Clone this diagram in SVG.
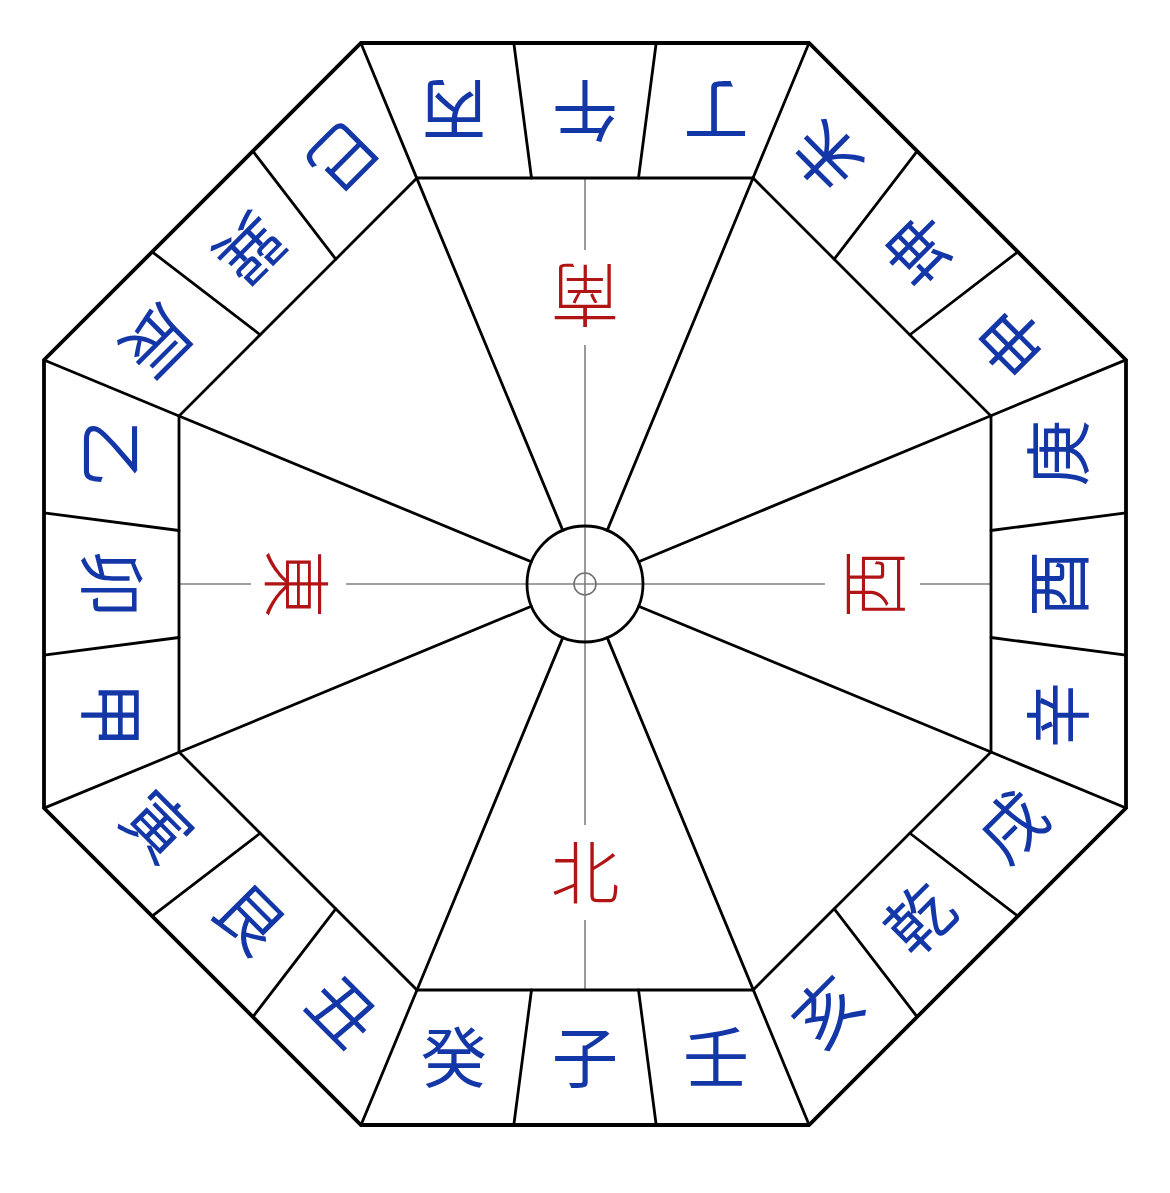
<svg xmlns="http://www.w3.org/2000/svg" xmlns:xlink="http://www.w3.org/1999/xlink" width="1170" height="1193" viewBox="0 0 1170 1193">
<style>
.ln{stroke:#000;stroke-width:2.8;fill:none;stroke-linecap:round}
.outer{stroke:#000;stroke-width:3.8;fill:none;stroke-linejoin:miter}
.inner{stroke:#000;stroke-width:2.8;fill:none}
.guide{stroke:#808080;stroke-width:1.6;fill:none}
.br{font-family:"Noto Sans CJK JP","Noto Sans CJK SC",sans-serif;font-size:66px;fill:#1437a8;text-anchor:middle}
.rd{font-family:"Noto Sans CJK JP","Noto Sans CJK SC",sans-serif;font-size:69px;font-weight:300;fill:#b01414;text-anchor:middle}
.gap{fill:#fff}
</style>
<defs>
<g id="sideLines">
<line class="ln" x1="417" y1="990" x2="361" y2="1125"/>
<line class="ln" x1="531.5" y1="990" x2="513.8" y2="1125"/>
<line class="ln" x1="638.5" y1="990" x2="656.2" y2="1125"/>
<line class="ln" x1="562.8" y1="637.6" x2="417" y2="990"/>
</g>
</defs>
<rect width="1170" height="1193" fill="#fff"/>
<g id="guides">
<line class="guide" x1="585" y1="178" x2="585" y2="990"/>
<line class="guide" x1="179" y1="584" x2="991" y2="584"/>
<rect class="gap" x="538" y="250" width="94" height="95"/>
<rect class="gap" x="538" y="825" width="94" height="95"/>
<rect class="gap" x="251" y="537" width="95" height="94"/>
<rect class="gap" x="825" y="537" width="95" height="94"/>
</g>
<g id="center">
<circle cx="585" cy="584" r="58" class="ln"/>
<circle cx="585" cy="584" r="11" stroke="#707070" stroke-width="1.6" fill="none"/>
</g>
<g id="frame">
<polygon class="outer" points="361,43 809,43 1126,360 1126,808 809,1125 361,1125 44,808 44,360"/>
<polygon class="inner" points="417,178 753,178 991,416 991,752 753,990 417,990 179,752 179,416"/>
</g>
<g id="connectors">
<use xlink:href="#sideLines"/>
<use xlink:href="#sideLines" transform="rotate(45 585 584)"/>
<use xlink:href="#sideLines" transform="rotate(90 585 584)"/>
<use xlink:href="#sideLines" transform="rotate(135 585 584)"/>
<use xlink:href="#sideLines" transform="rotate(180 585 584)"/>
<use xlink:href="#sideLines" transform="rotate(225 585 584)"/>
<use xlink:href="#sideLines" transform="rotate(270 585 584)"/>
<use xlink:href="#sideLines" transform="rotate(315 585 584)"/>
</g>
<g id="cardinals">
<g id="n-north"><text class="rd" x="585" y="899">北</text></g>
<g id="n-east" transform="rotate(90 585 584)"><text class="rd" x="585" y="899">東</text></g>
<g id="n-south" transform="rotate(180 585 584)"><text class="rd" x="585" y="899">南</text></g>
<g id="n-west" transform="rotate(270 585 584)"><text class="rd" x="585" y="899">西</text></g>
</g>
<g id="directions">
<g id="side-bottom">
<g id="n-mizunoto"><text class="br" x="454" y="1082">癸</text></g>
<g id="n-ne"><text class="br" x="585" y="1082">子</text></g>
<g id="n-mizunoe"><text class="br" x="716" y="1082">壬</text></g>
</g>
<g id="side-bl" transform="rotate(45 585 584)">
<g id="n-tora"><text class="br" x="454" y="1082">寅</text></g>
<g id="n-ushitora"><text class="br" x="585" y="1082">艮</text></g>
<g id="n-ushi"><text class="br" x="716" y="1082">丑</text></g>
</g>
<g id="side-left" transform="rotate(90 585 584)">
<g id="n-kinoto"><text class="br" x="454" y="1082">乙</text></g>
<g id="n-u"><text class="br" x="585" y="1082">卯</text></g>
<g id="n-kinoe"><text class="br" x="716" y="1082">甲</text></g>
</g>
<g id="side-tl" transform="rotate(135 585 584)">
<g id="n-mi"><text class="br" x="454" y="1082">巳</text></g>
<g id="n-tatsumi"><text class="br" x="585" y="1082">巽</text></g>
<g id="n-tatsu"><text class="br" x="716" y="1082">辰</text></g>
</g>
<g id="side-top" transform="rotate(180 585 584)">
<g id="n-hinoto"><text class="br" x="454" y="1082">丁</text></g>
<g id="n-uma"><text class="br" x="585" y="1082">午</text></g>
<g id="n-hinoe"><text class="br" x="716" y="1082">丙</text></g>
</g>
<g id="side-tr" transform="rotate(225 585 584)">
<g id="n-saru"><text class="br" x="454" y="1082">申</text></g>
<g id="n-hitsujisaru"><text class="br" x="585" y="1082">坤</text></g>
<g id="n-hitsuji"><text class="br" x="716" y="1082">未</text></g>
</g>
<g id="side-right" transform="rotate(270 585 584)">
<g id="n-kanoto"><text class="br" x="454" y="1082">辛</text></g>
<g id="n-tori"><text class="br" x="585" y="1082">酉</text></g>
<g id="n-kanoe"><text class="br" x="716" y="1082">庚</text></g>
</g>
<g id="side-br" transform="rotate(315 585 584)">
<g id="n-i"><text class="br" x="454" y="1082">亥</text></g>
<g id="n-inui"><text class="br" x="585" y="1082">乾</text></g>
<g id="n-inu"><text class="br" x="716" y="1082">戌</text></g>
</g>
</g>
</svg>
